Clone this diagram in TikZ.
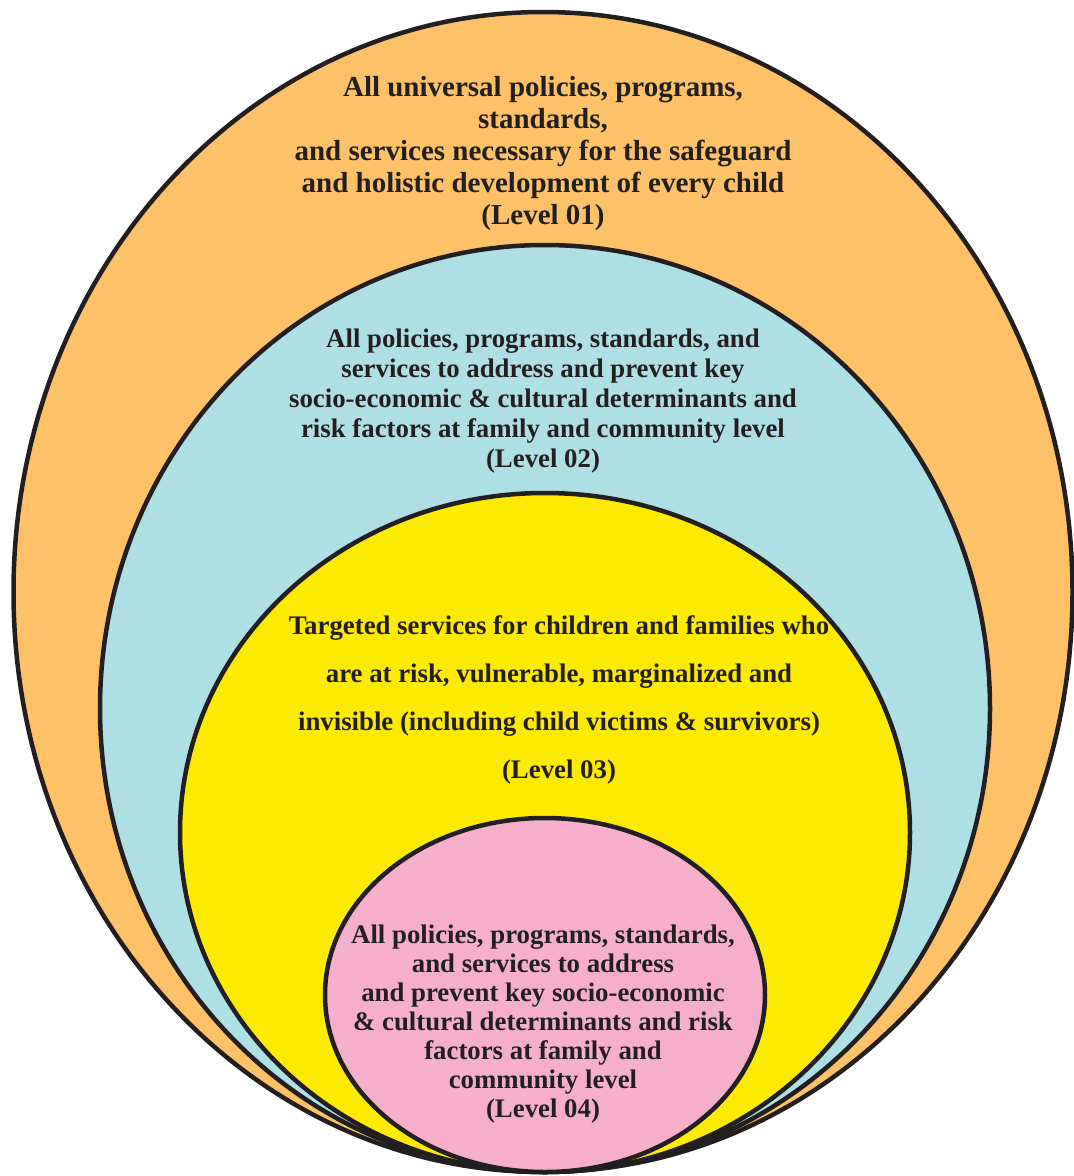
\documentclass[tikz,border=0pt]{standalone}
\usepackage{fontspec}
\setmainfont{Liberation Serif}
\usepackage{tikz}
\usetikzlibrary{shapes.geometric}
\definecolor{levelone}{HTML}{FDC268}
\definecolor{leveltwo}{HTML}{AEDFE5}
\definecolor{levelthree}{HTML}{FCEB00}
\definecolor{levelfour}{HTML}{F5AFCB}
\definecolor{rim}{HTML}{231F20}
\begin{document}
\begin{tikzpicture} [x=1pt,y=-1pt,
  ring/.style={ellipse,draw=rim,line width=4.5pt,inner sep=0pt,outer sep=0pt},
  txt/.style 2 args={align=center,text=rim,font=\fontsize{#1}{#2}\selectfont\bfseries}]
\useasboundingbox (0,0) rectangle (1074,1176);
 \node [ring,fill=levelone,minimum width=1059pt,minimum height=1160pt] (one) at (543,592) {};
 \node [ring,fill=leveltwo,minimum width=890pt,minimum height=927pt] (two) at (545,708.5) {};
 \node [ring,fill=levelthree,minimum width=730pt,minimum height=679pt] (three) at (545,832.5) {};
 \node [ring,fill=levelfour,minimum width=440pt,minimum height=354pt] (four) at (545,995) {};
 \node [txt={29}{32}] (onetext) at (543,154) {All universal policies, programs,\\standards,\\and services necessary for the safeguard\\and holistic development of every child\\(Level 01)};
 \node [txt={26.8}{30}] (twotext) at (543,401) {All policies, programs, standards, and\\services to address and prevent key\\socio-economic \& cultural determinants and\\risk factors at family and community level\\(Level 02)};
 \node [txt={26.8}{48}] (threetext) at (559,700) {Targeted services for children and families who\\are at risk, vulnerable, marginalized and\\invisible (including child victims \& survivors)\\(Level 03)};
 \node [txt={26.8}{29}] (fourtext) at (543,1024) {All policies, programs, standards,\\and services to address\\and prevent key socio-economic\\\& cultural determinants and risk\\factors at family and\\community level\\(Level 04)};
\end{tikzpicture}
\end{document}
